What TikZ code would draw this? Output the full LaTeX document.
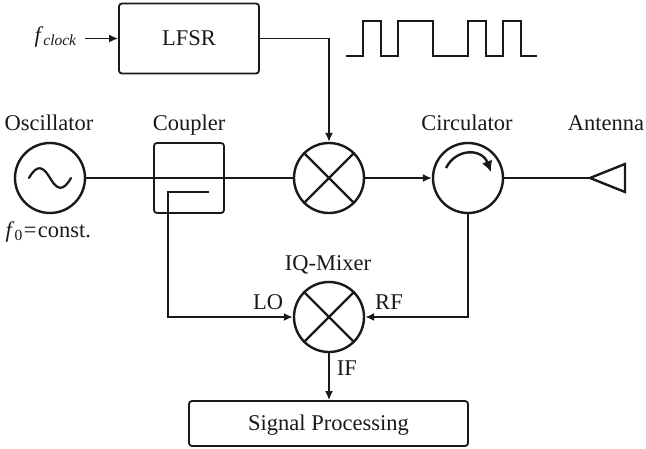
\documentclass[tikz,border=0pt]{standalone}
\usepackage{fontspec}
\setmainfont{Liberation Serif}
\usetikzlibrary{arrows.meta}
\newcommand{\subtxt}[1]{\raisebox{-3.5pt}{\fontsize{15.5}{16}\selectfont #1}}
\begin{document}
\begin{tikzpicture}[x=1pt,y=-1pt,
  line width=1.4pt,
  conn/.style={line width=1.6pt,draw=black!90},
  arr/.style={conn,-{Latex[length=9pt,width=8pt]}},
  blockbox/.style={draw=black!90,line width=1.8pt,rounded corners=3pt,inner sep=0pt},
  ring/.style={circle,draw=black!90,line width=2.4pt,minimum size=70pt,inner sep=0pt},
  lbl/.style={inner sep=0pt,anchor=base,font=\fontsize{22.5}{24}\selectfont,text=black!90}]
\useasboundingbox (0,0) rectangle (646,448);
\node[blockbox,minimum width=140pt,minimum height=70pt] (lfsr) at (189,38.5) {};
\node[blockbox,minimum width=70pt,minimum height=70pt] (coupler) at (189,178) {};
\node[blockbox,minimum width=279pt,minimum height=45pt] (sp) at (328.5,423.5) {};
\node[lbl] (tlfsr) at (189,45.5) {LFSR};
\node[lbl] (tsp) at (328.5,430) {Signal Processing};
\node[ring] (osc) at (50,178) {};
\node[ring] (mix) at (329,178) {};
\node[ring] (circ) at (468,178) {};
\node[ring] (iq) at (329,317) {};
\foreach \n in {mix,iq}{
  \draw[line width=2.2pt,draw=black!90] (\n.45) -- (\n.225) (\n.135) -- (\n.315);
}
\draw[line width=2.2pt,draw=black!90,line cap=round] (29,178) .. controls (37,164) and (43,166) .. (50,178) .. controls (57,190) and (63,192) .. (71,178);
\draw[line width=2.4pt,draw=black!90,-{Latex[length=11pt,width=11pt]}] (446,168) .. controls (456,148) and (482,148) .. (491,172);
\node[lbl] (tosc) at (49,130.5) {Oscillator};
\node[lbl] (tcoup) at (189,130.5) {Coupler};
\node[lbl] (tcirc) at (467,130.5) {Circulator};
\node[lbl] (tant) at (606,130.5) {Antenna};
\node[lbl] (tiq) at (328,270) {IQ-Mixer};
\node[lbl] (tlo) at (268,309) {LO};
\node[lbl] (trf) at (389,309) {RF};
\node[lbl] (tif) at (347,375) {IF};
\node[lbl,anchor=base west] (tf0) at (5,237) {\textit{f}\subtxt{0}\kern1.5pt=\kern1.5pt const.};
\node[lbl,anchor=base east] (tclk) at (77,42) {\textit{f}\subtxt{\textit{clock}}};
\coordinate (clkstart) at (85,38.5);
\coordinate (c1) at (329,38.5);
\coordinate (c2) at (209,192);
\coordinate (c3) at (168,192);
\coordinate (c4) at (168,317);
\coordinate (c5) at (468,317);
\coordinate (anttip) at (590,178);
\draw[line width=2.4pt,draw=black!90,line join=miter] (anttip) -- (625,164) -- (625,192) -- cycle;
\draw[arr] (clkstart) -- (lfsr.west);
\draw[arr] (lfsr.east) -- (c1) -- (mix.north);
\draw[conn] (osc.east) -- (mix.west);
\draw[arr] (mix.east) -- (circ.west);
\draw[conn] (circ.east) -- (anttip);
\draw[arr] (c2) -- (c3) -- (c4) -- (iq.west);
\draw[arr] (circ.south) -- (c5) -- (iq.east);
\draw[arr] (iq.south) -- (sp.north -| iq.south);
\draw[conn,line join=miter] (346,56) -- (363,56) -- (363,21) -- (381,21) -- (381,56) -- (398,56) -- (398,21) -- (433,21) -- (433,56) -- (468,56) -- (468,21) -- (486,21) -- (486,56) -- (503,56) -- (503,21) -- (521,21) -- (521,56) -- (537,56);
\end{tikzpicture}
\end{document}
